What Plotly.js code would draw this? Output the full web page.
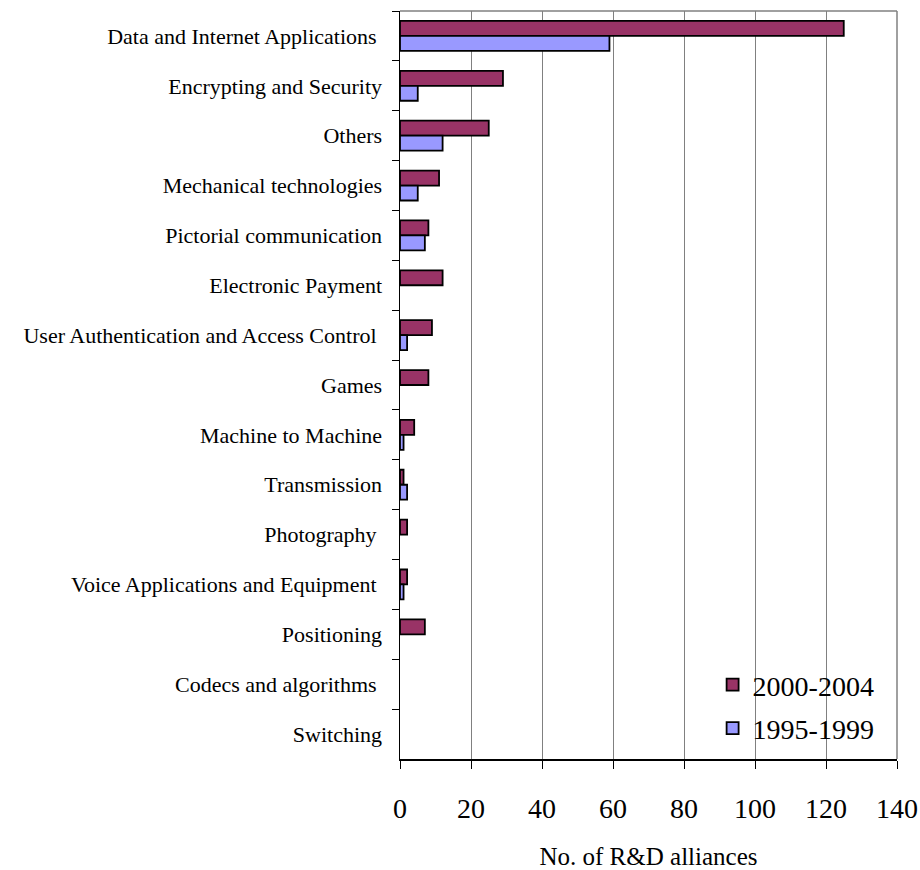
<!DOCTYPE html>
<html>
<head>
<meta charset="utf-8">
<script src="https://cdn.plot.ly/plotly-3.0.1.min.js"></script>
<style>html,body{margin:0;padding:0;background:#fff;}</style>
</head>
<body>
<div id="chart" style="width:920px;height:870px;"></div>
<script>
const categories = [
  "Data and Internet Applications ",
  "Encrypting and Security",
  "Others",
  "Mechanical technologies",
  "Pictorial communication",
  "Electronic Payment",
  "User Authentication and Access Control ",
  "Games",
  "Machine to Machine",
  "Transmission",
  "Photography ",
  "Voice Applications and Equipment ",
  "Positioning",
  "Codecs and algorithms ",
  "Switching"
];
const series2000_2004 = [125, 29, 25, 11, 8, 12, 9, 8, 4, 1, 2, 2, 7, 0, 0];
const series1995_1999 = [59, 5, 12, 5, 7, 0, 2, 0, 1, 2, 0, 1, 0, 0, 0];
const xTicks = [0, 20, 40, 60, 80, 100, 120, 140];

const serif = "Liberation Serif, Times New Roman, serif";
const outline = vals => vals.map(v => v > 0 ? 1.8 : 0);

const traces = [
  {
    type: "bar", orientation: "h", name: "2000-2004", legendgroup: "a",
    y: categories, x: series2000_2004,
    marker: {color: "#993366", line: {color: "#000000", width: outline(series2000_2004)}}
  },
  {
    type: "bar", orientation: "h", name: "1995-1999", legendgroup: "b",
    y: categories, x: series1995_1999,
    marker: {color: "#9999FF", line: {color: "#000000", width: outline(series1995_1999)}}
  }
];

const layout = {
  width: 920, height: 870,
  margin: {l: 400, r: 23, t: 11, b: 111},
  paper_bgcolor: "#ffffff", plot_bgcolor: "#ffffff",
  barmode: "group", bargap: 0.4, bargroupgap: 0,
  showlegend: true,
  legend: {
    x: 0.965, y: 0.008, xanchor: "right", yanchor: "bottom",
    font: {family: serif, size: 28, color: "#000"},
    bgcolor: "rgba(255,255,255,0)", borderwidth: 0,
    tracegroupgap: 4
  },
  xaxis: {
    range: [0, 140], tickvals: xTicks, ticktext: xTicks.map(String),
    showgrid: true, gridcolor: "#808080", gridwidth: 1,
    zeroline: false,
    showline: true, linecolor: "#000", linewidth: 1.5,
    ticks: "outside", ticklen: 8, tickcolor: "#000", tickwidth: 1,
    tickfont: {family: serif, size: 28, color: "#000"},
    ticklabelstandoff: 16,
    title: {text: "No. of R&D alliances", font: {family: serif, size: 25, color: "#000"}, standoff: 28}
  },
  yaxis: {
    type: "category", autorange: "reversed",
    showgrid: false, zeroline: false,
    showline: true, linecolor: "#000", linewidth: 1.5,
    ticks: "outside", ticklen: 7, tickcolor: "#000", tickwidth: 1,
    tickson: "boundaries",
    tickfont: {family: serif, size: 22, color: "#000"},
    ticklabelstandoff: 12
  },
  shapes: [
    {type: "line", xref: "paper", yref: "paper", x0: 0, x1: 1, y0: 1, y1: 1,
     line: {color: "#808080", width: 1.5}},
    {type: "line", xref: "paper", yref: "paper", x0: 1, x1: 1, y0: 0, y1: 1,
     line: {color: "#808080", width: 1.5}}
  ]
};

Plotly.newPlot("chart", traces, layout, {displayModeBar: false, staticPlot: true});
</script>
</body>
</html>
